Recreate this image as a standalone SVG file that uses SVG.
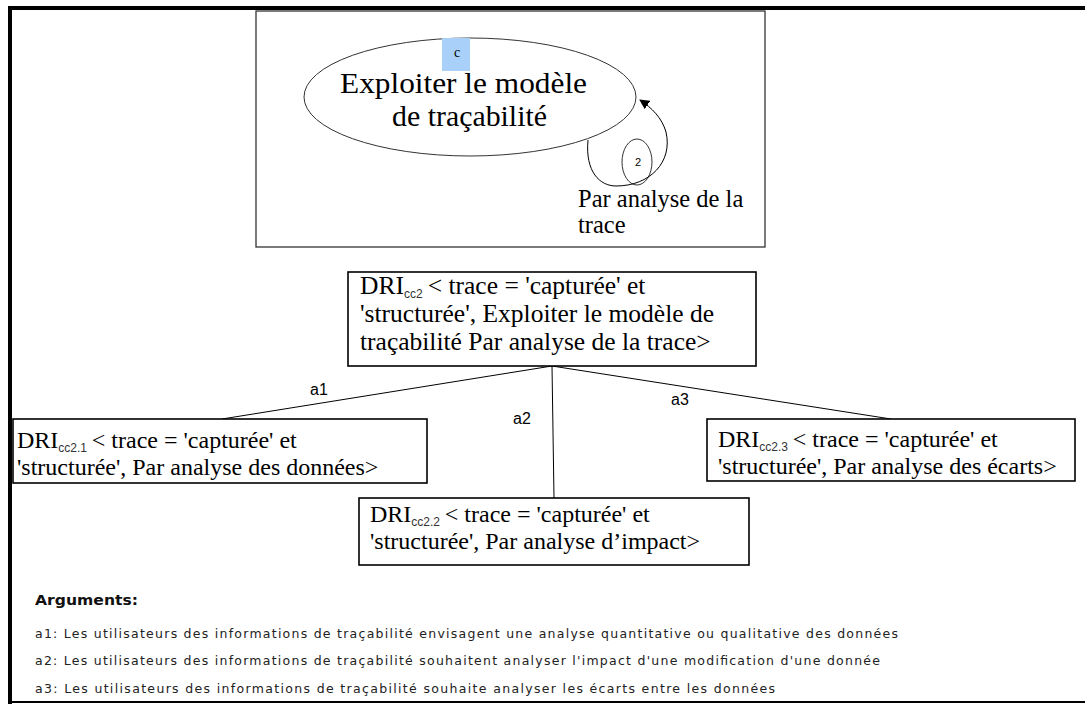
<svg xmlns="http://www.w3.org/2000/svg" width="1085" height="704" viewBox="0 0 1085 704">
<style>
.serif{font-family:"Liberation Serif","Times New Roman",serif;fill:#000}
.sans{font-family:"Liberation Sans",Arial,sans-serif;fill:#000}
.box{fill:#fff;stroke:#000;stroke-width:1.6}
.line{stroke:#000;stroke-width:1;fill:none}
.bt{font-size:24px}
.bt2{font-size:25.5px}
.sub{font-family:"Liberation Sans",Arial,sans-serif;font-size:12px;fill:#333}
.arg{font-family:"DejaVu Sans",Verdana,sans-serif;font-size:12.5px;fill:#222}
</style>
<defs>
<marker id="ah" viewBox="0 0 10 10" refX="9" refY="5" markerWidth="10" markerHeight="10" orient="auto" markerUnits="userSpaceOnUse">
<path d="M0,0 L10,5 L0,10 z" fill="#000"/>
</marker>
</defs>
<rect width="1085" height="704" fill="#fff"/>
<g id="frame">
<rect x="8" y="6" width="1077" height="4" fill="#000"/>
<rect x="8" y="6" width="4" height="698" fill="#000"/>
<rect x="8" y="701" width="1077" height="2" fill="#000"/>
</g>
<g id="top-panel">
<rect x="256" y="11" width="509" height="236" fill="#fff" stroke="#333" stroke-width="1.3"/>
</g>
<g id="goal">
<ellipse cx="470" cy="97" rx="166" ry="59" fill="#fff" stroke="#333" stroke-width="1"/>
<rect x="442" y="38" width="28" height="33" fill="#a8d0f8"/>
<text x="457" y="57" class="serif" font-size="14" text-anchor="middle">c</text>
<text x="340" y="93" class="serif" font-size="29.5" textLength="247" lengthAdjust="spacingAndGlyphs">Exploiter le modèle</text>
<text x="392" y="126" class="serif" font-size="29.5" textLength="155" lengthAdjust="spacingAndGlyphs">de traçabilité</text>
</g>
<g id="strategy">
<ellipse cx="637" cy="162" rx="15" ry="23" fill="none" stroke="#333" stroke-width="1"/>
<text x="638" y="166" class="sans" font-size="11" text-anchor="middle">2</text>
<text x="578" y="207" class="serif" font-size="24.5">Par analyse de la</text>
<text x="578" y="233" class="serif" font-size="24.5">trace</text>
</g>
<g id="connectors">
<path class="line" d="M588,140 C585,172 600,186 616,186 C650,186 673,162 666,132 C662,118 652,108 640,100" marker-end="url(#ah)"/>
<line class="line" x1="552" y1="366" x2="222" y2="419"/>
<line class="line" x1="552" y1="366" x2="554" y2="498"/>
<line class="line" x1="552" y1="366" x2="891" y2="419"/>
<text x="319" y="395" class="sans" font-size="16" text-anchor="middle">a1</text>
<text x="522" y="424" class="sans" font-size="16" text-anchor="middle">a2</text>
<text x="680" y="405" class="sans" font-size="16" text-anchor="middle">a3</text>
</g>
<g id="dri-cc2">
<rect class="box" x="348" y="272" width="408" height="94"/>
<text x="360" y="294" class="serif bt2">DRI<tspan class="sub" dy="4">cc2</tspan><tspan dy="-4">&#8201;&lt; trace = 'capturée' et</tspan></text>
<text x="360" y="322" class="serif bt2">'structurée', Exploiter le modèle de</text>
<text x="360" y="350" class="serif bt2">traçabilité Par analyse de la trace&gt;</text>
</g>
<g id="dri-cc2-1">
<rect class="box" x="13" y="419" width="414" height="64"/>
<text x="17" y="448" class="serif bt">DRI<tspan class="sub" dy="4">cc2.1</tspan><tspan dy="-4">&#8201;&lt; trace = 'capturée' et</tspan></text>
<text x="17" y="475" class="serif bt">'structurée', Par analyse des données&gt;</text>
</g>
<g id="dri-cc2-2">
<rect class="box" x="359" y="498" width="390" height="67"/>
<text x="370" y="522" class="serif bt">DRI<tspan class="sub" dy="4">cc2.2</tspan><tspan dy="-4">&#8201;&lt; trace = 'capturée' et</tspan></text>
<text x="370" y="549" class="serif bt">'structurée', Par analyse d’impact&gt;</text>
</g>
<g id="dri-cc2-3">
<rect class="box" x="707" y="419" width="368" height="62"/>
<text x="718" y="447" class="serif bt">DRI<tspan class="sub" dy="4">cc2.3</tspan><tspan dy="-4">&#8201;&lt; trace = 'capturée' et</tspan></text>
<text x="718" y="474" class="serif bt">'structurée', Par analyse des écarts&gt;</text>
</g>
<g id="arguments">
<text x="35" y="605" font-family="'DejaVu Sans',Verdana,sans-serif" font-size="14" font-weight="bold" fill="#111" textLength="103" lengthAdjust="spacingAndGlyphs">Arguments:</text>
<text x="35" y="638" class="arg" textLength="863" lengthAdjust="spacing">a1: Les utilisateurs des informations de traçabilité envisagent une analyse quantitative ou qualitative des données</text>
<text x="35" y="665" class="arg" textLength="845" lengthAdjust="spacing">a2: Les utilisateurs des informations de traçabilité souhaitent analyser l'impact d'une modification d'une donnée</text>
<text x="35" y="693" class="arg" textLength="740" lengthAdjust="spacing">a3: Les utilisateurs des informations de traçabilité souhaite analyser les écarts entre les données</text>
</g>
</svg>
